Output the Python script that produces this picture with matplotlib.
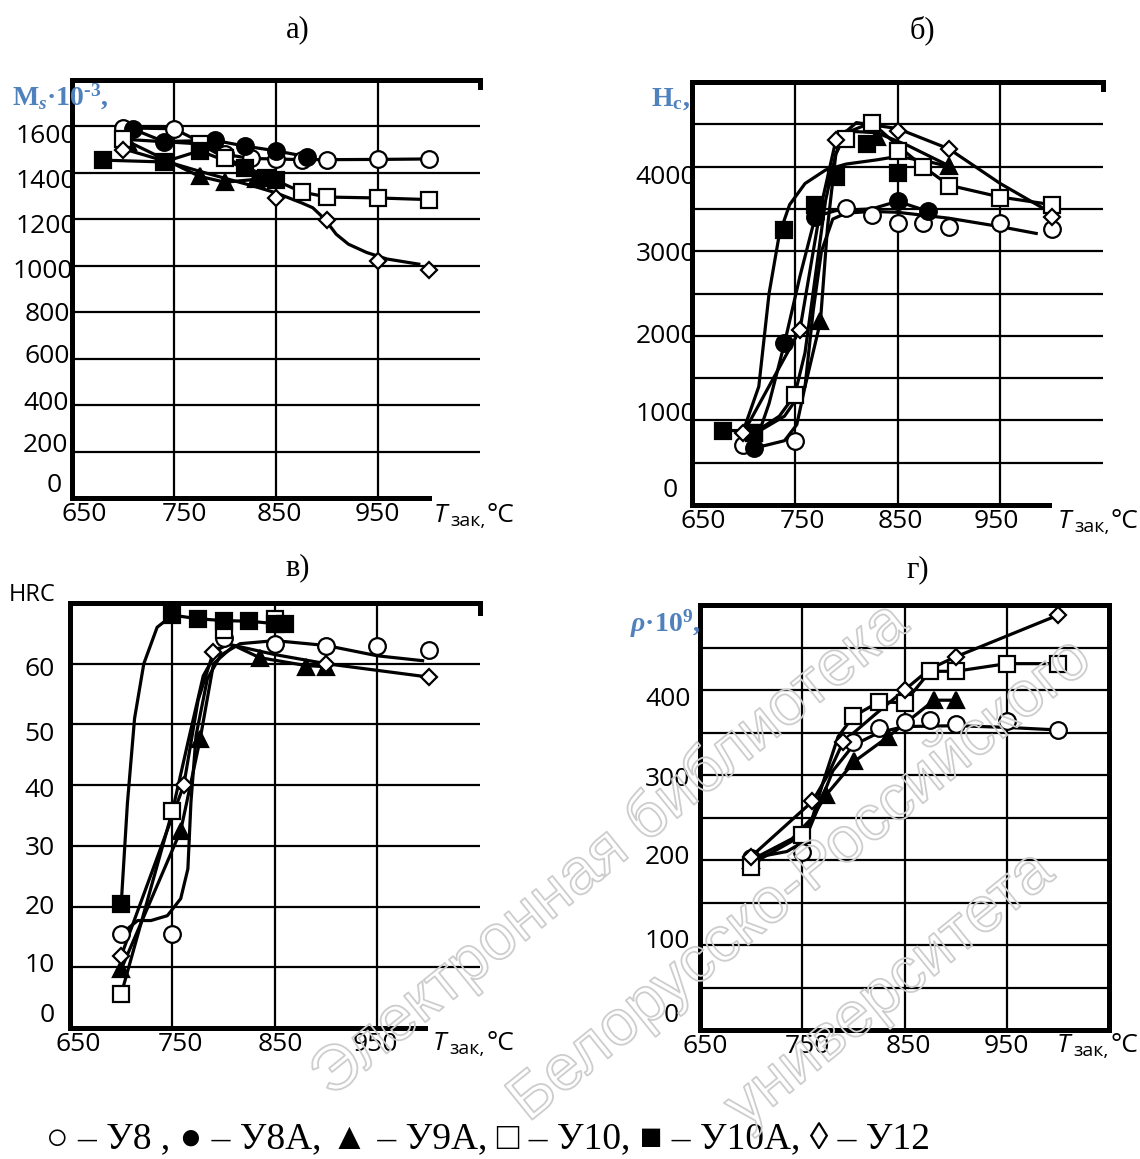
import numpy as np
import matplotlib
matplotlib.use("Agg")
import matplotlib.pyplot as plt
from matplotlib.transforms import ScaledTranslation
import matplotlib.patheffects as pe

plt.rcParams['font.family'] = ['Open Sans', 'DejaVu Sans']
plt.rcParams['mathtext.fontset'] = 'custom'
plt.rcParams['mathtext.rm'] = 'Liberation Serif:bold'
plt.rcParams['mathtext.it'] = 'Liberation Serif:bold:italic'
plt.rcParams['mathtext.bf'] = 'Liberation Serif:bold'

W, H = 1140, 1159
BLUE = '#4f81bd'

# -----------------------------
# а) Ms*10^-3
# -----------------------------
ms_u8_x = [700, 750, 800, 825, 850, 875, 900, 950, 1000]
ms_u8_y = [1594, 1590, 1480, 1462, 1460, 1457, 1457, 1458, 1460]
ms_u8a_x = [710, 740, 790, 820, 850, 880]
ms_u8a_y = [1588, 1535, 1540, 1515, 1495, 1470]
ms_u9a_x = [705, 775, 800, 830]
ms_u9a_y = [1535, 1385, 1360, 1372]
ms_u10_x = [700, 775, 800, 875, 900, 950, 1000]
ms_u10_y = [1545, 1525, 1465, 1318, 1296, 1292, 1285]
ms_u10a_x = [680, 740, 775, 820, 840, 850]
ms_u10a_y = [1455, 1447, 1495, 1420, 1378, 1370]
ms_u12_x = [700, 850, 900, 950, 1000]
ms_u12_y = [1500, 1292, 1195, 1022, 980]
ms_u12_cx = [700, 775, 828, 850, 875, 886, 898, 909, 921, 939, 959, 990]
ms_u12_cy = [1504, 1407, 1343, 1314, 1271, 1250, 1200, 1136, 1093, 1057, 1029, 1007]

# -----------------------------
# б) Hc
# -----------------------------
hc_u8_x = [700, 750, 800, 825, 850, 875, 900, 950, 1000]
hc_u8_y = [710, 760, 3510, 3430, 3330, 3330, 3290, 3330, 3260]
hc_u8_cx = [700, 720, 740, 752, 760, 768, 776, 787, 800, 825, 850, 900, 950, 985]
hc_u8_cy = [720, 700, 760, 950, 1400, 2300, 3000, 3380, 3450, 3470, 3460, 3390, 3290, 3210]
hc_u8a_x = [710, 740, 770, 850, 880]
hc_u8a_y = [670, 1910, 3410, 3590, 3470]
hc_u8a_cx = [710, 725, 740, 755, 770, 790, 825, 850, 880]
hc_u8a_cy = [670, 1200, 1910, 2700, 3410, 3480, 3500, 3590, 3470]
hc_u9a_x = [775, 830, 900]
hc_u9a_y = [2170, 4350, 4010]
hc_u9a_cx = [705, 740, 760, 775, 782, 790, 800, 830, 860, 900]
hc_u9a_cy = [800, 1050, 1400, 2170, 3300, 4150, 4420, 4400, 4250, 4010]
hc_u10_x = [710, 750, 800, 825, 850, 875, 900, 950, 1000]
hc_u10_y = [850, 1300, 4330, 4510, 4180, 4000, 3770, 3630, 3550]
hc_u10_cx = [710, 735, 750, 760, 770, 780, 790, 800, 825, 850, 875, 900, 950, 1000]
hc_u10_cy = [850, 1050, 1300, 1800, 2700, 3600, 4150, 4400, 4520, 4250, 4000, 3780, 3640, 3550]
hc_u10a_x = [680, 710, 740, 770, 790, 820, 850]
hc_u10a_y = [880, 850, 3250, 3550, 3880, 4270, 3920]
hc_u10a_cx = [680, 700, 715, 725, 735, 745, 760, 780, 800, 830, 850, 880, 900]
hc_u10a_cy = [880, 880, 1400, 2500, 3200, 3550, 3800, 3960, 4030, 4080, 4120, 4060, 4000]
hc_u12_x = [700, 755, 790, 850, 900, 1000]
hc_u12_y = [850, 2070, 4310, 4420, 4210, 3410]
hc_u12_cx = [700, 755, 775, 790, 810, 850, 900, 950, 1000]
hc_u12_cy = [850, 2070, 3500, 4310, 4520, 4450, 4210, 3800, 3450]

# -----------------------------
# в) HRC
# -----------------------------
hrc_u8_x = [700, 750, 800, 850, 900, 950, 1000]
hrc_u8_y = [15.5, 15.5, 64.2, 63.3, 62.9, 62.9, 62.2]
hrc_u8_cx = [700, 716, 729, 745, 758, 765, 768, 773, 784, 797, 816, 850, 900, 950, 994]
hrc_u8_cy = [15.5, 17.7, 17.7, 18.5, 21.3, 26.2, 37.2, 48.2, 57.5, 61.4, 63.3, 63.8, 63.0, 61.3, 60.5]
hrc_u9a_x = [700, 758, 777, 835, 880, 900]
hrc_u9a_y = [9.7, 32.5, 47.6, 61.0, 59.5, 59.5]
hrc_u9a_cx = [700, 758, 777, 790, 810, 835, 880, 900]
hrc_u9a_cy = [9.7, 32.5, 47.6, 60, 63, 61, 59.7, 59.5]
hrc_u10_x = [700, 750, 800, 850]
hrc_u10_y = [5.6, 35.8, 65.5, 67.4]
hrc_u10_cx = [700, 750, 765, 780, 795]
hrc_u10_cy = [5.6, 35.8, 47, 58, 62.5]
hrc_u10a_x = [700, 750, 775, 800, 825, 850, 860]
hrc_u10a_y = [20.5, 68.0, 67.4, 67.1, 67.0, 66.6, 66.6]
hrc_u10a_cx = [700, 706, 713, 722, 735, 750, 775, 800, 825, 850, 860]
hrc_u10a_cy = [20.5, 37, 51, 60, 66, 68, 67.4, 67.1, 67, 66.6, 66.6]
hrc_u12_x = [700, 761, 790, 900, 1000]
hrc_u12_y = [11.9, 40.0, 62.0, 59.9, 57.8]
hrc_u12_cx = [700, 761, 775, 790, 805, 850, 900, 1000]
hrc_u12_cy = [11.9, 40, 54, 62, 63.2, 61.5, 60, 57.8]

# -----------------------------
# г) rho*10^9
# -----------------------------
rho_u8_x = [700, 750, 800, 825, 850, 875, 900, 950, 1000]
rho_u8_y = [202, 209, 339, 355, 362, 365, 360, 364, 353]
rho_u8_cx = [700, 735, 752, 765, 780, 800, 825, 850, 900, 950, 1000]
rho_u8_cy = [202, 210, 222, 260, 305, 335, 350, 357, 358, 356, 353]
rho_u9a_x = [700, 773, 801, 834, 879, 900]
rho_u9a_y = [200, 276, 316, 345, 388, 388]
rho_u9a_cx = [700, 740, 760, 773, 801, 834, 855, 879, 900]
rho_u9a_cy = [200, 225, 250, 276, 316, 345, 365, 388, 388]
rho_u10_x = [700, 750, 800, 825, 850, 875, 900, 950, 1000]
rho_u10_y = [192, 229, 369, 386, 385, 422, 422, 431, 431]
rho_u10_cx = [700, 750, 760, 770, 785, 800, 825, 850, 875, 900, 950, 1000]
rho_u10_cy = [195, 229, 250, 290, 345, 369, 386, 385, 422, 422, 431, 431]
rho_u12_x = [700, 760, 790, 850, 900, 1000]
rho_u12_y = [204, 269, 339, 400, 439, 488]
rho_u12_cx = [700, 760, 775, 790, 820, 850, 875, 900, 1000]
rho_u12_cy = [204, 269, 300, 339, 370, 400, 425, 439, 488]

legend_text = "○ – У8 , ● – У8А, ▲ – У9А, □ – У10, ■ – У10А, ◊ – У12"
watermark_lines = ['Электронная библиотека', 'Белорусско-Российского', 'университета']

styles = {
    'u8':   dict(marker='o', mfc='white', ms=12),
    'u8a':  dict(marker='o', mfc='black', ms=12),
    'u9a':  dict(marker='^', mfc='black', ms=12),
    'u10':  dict(marker='s', mfc='white', ms=12),
    'u10a': dict(marker='s', mfc='black', ms=12),
    'u12':  dict(marker='D', mfc='white', ms=8),
}

fig = plt.figure(figsize=(W / 100, H / 100), dpi=100)


def box(l, t, r, b):
    return [l / W, 1 - b / H, (r - l) / W, (b - t) / H]


def shift(lab, dx, dy):
    lab.set_transform(lab.get_transform() + ScaledTranslation(dx / 100, dy / 100, fig.dpi_scale_trans))


def setup(ax, ymax, gstep, lstep, lmax, bottom_end, right_start, ypad, yoff, xdx):
    ax.set_xlim(650, 1050)
    ax.set_ylim(0, ymax)
    ax.set_xticks([650, 750, 850, 950])
    yt = np.arange(0, lmax + 1, lstep)
    ax.set_yticks(yt)
    ax.set_yticklabels([str(int(v)) for v in yt])
    ax.tick_params(length=0, labelsize=19)
    ax.tick_params(axis='y', pad=ypad)
    ax.tick_params(axis='x', pad=3)
    # the source puts its tick labels a little off the grid lines
    for lab, (dx, dy) in zip(ax.get_yticklabels(), yoff):
        shift(lab, dx, dy)
    for lab, dx in zip(ax.get_xticklabels(), xdx):
        shift(lab, dx, 0)
    for v in [750, 850, 950]:
        ax.axvline(v, color='black', lw=1.6, zorder=1)
    for v in np.arange(gstep, ymax, gstep):
        ax.axhline(v, color='black', lw=1.6, zorder=1)
    for s in ['right', 'bottom']:
        ax.spines[s].set_visible(False)
    for s in ['left', 'top']:
        ax.spines[s].set_linewidth(3.6)
    ax.plot([0, bottom_end], [0, 0], transform=ax.transAxes, color='black',
            lw=3.6, clip_on=False, solid_capstyle='projecting', zorder=5)
    ax.plot([1, 1], [right_start, 1], transform=ax.transAxes, color='black',
            lw=3.6, clip_on=False, solid_capstyle='projecting', zorder=5)


def series(ax, key, x, y, cx=None, cy=None):
    if cx is None:
        cx, cy = x, y
    ax.plot(cx, cy, color='black', lw=2.3, zorder=3, clip_on=False)
    ax.plot(x, y, ls='none', mec='black', mew=1.6, zorder=4, clip_on=False,
            **styles[key])


def tlabel(x0, y0):
    # "T" italic, "зак," subscript, "°C"
    fig.text(x0 / W, 1 - y0 / H, 'T', fontsize=19, style='italic', va='center')
    fig.text((x0 + 16) / W, 1 - (y0 + 6) / H, 'зак,', fontsize=14, va='center')
    fig.text((x0 + 53) / W, 1 - y0 / H, '°C', fontsize=19, va='center')


# а)
ax1 = fig.add_axes(box(72, 80, 480, 498))
setup(ax1, 1800, 200, 200, 1600, 0.875, 0.983, -3,
      [(-14, 15), (-8, 9), (-7, 5), (-6, 5), (-6, 1), (-3, -3), (0, -4), (0, -6), (0, -7)],
      [12, 10, 3, -1])
series(ax1, 'u8', ms_u8_x, ms_u8_y)
series(ax1, 'u8a', ms_u8a_x, ms_u8a_y)
series(ax1, 'u9a', ms_u9a_x, ms_u9a_y)
series(ax1, 'u10', ms_u10_x, ms_u10_y)
series(ax1, 'u10a', ms_u10a_x, ms_u10a_y)
series(ax1, 'u12', ms_u12_x, ms_u12_y, ms_u12_cx, ms_u12_cy)
fig.text(12 / W, 1 - 97 / H, r'$\mathrm{M}_{\mathit{s}}\mathrm{·}\mathit{10}^{\mathit{‐3}}\mathrm{,}$',
         color=BLUE, fontsize=20, va='center')
tlabel(434, 515)

# б)
ax2 = fig.add_axes(box(692, 82, 1103, 505))
setup(ax2, 5000, 500, 1000, 4000, 0.8675, 0.983, -3,
      [(-18, 18), (0, 9), (0, 2), (0, 0), (0, -8)], [11, 8, 3, -4])
series(ax2, 'u8', hc_u8_x, hc_u8_y, hc_u8_cx, hc_u8_cy)
series(ax2, 'u8a', hc_u8a_x, hc_u8a_y, hc_u8a_cx, hc_u8a_cy)
series(ax2, 'u9a', hc_u9a_x, hc_u9a_y, hc_u9a_cx, hc_u9a_cy)
series(ax2, 'u10', hc_u10_x, hc_u10_y, hc_u10_cx, hc_u10_cy)
series(ax2, 'u10a', hc_u10a_x, hc_u10a_y, hc_u10a_cx, hc_u10a_cy)
series(ax2, 'u12', hc_u12_x, hc_u12_y, hc_u12_cx, hc_u12_cy)
fig.text(651 / W, 1 - 99 / H, r'$\mathrm{H}_{\mathrm{c}}\mathrm{,}$',
         color=BLUE, fontsize=20, va='center')
tlabel(1058, 521)

# в)
ax3 = fig.add_axes(box(70, 603, 480, 1028))
setup(ax3, 70, 10, 10, 60, 0.865, 0.976, 11,
      [(0, 16), (0, 5), (0, 2), (0, 0), (0, -2), (0, -7), (0, -3)], [8, 8, 5, -2])
series(ax3, 'u8', hrc_u8_x, hrc_u8_y, hrc_u8_cx, hrc_u8_cy)
series(ax3, 'u9a', hrc_u9a_x, hrc_u9a_y, hrc_u9a_cx, hrc_u9a_cy)
series(ax3, 'u10', hrc_u10_x, hrc_u10_y, hrc_u10_cx, hrc_u10_cy)
series(ax3, 'u10a', hrc_u10a_x, hrc_u10a_y, hrc_u10a_cx, hrc_u10a_cy)
series(ax3, 'u12', hrc_u12_x, hrc_u12_y, hrc_u12_cx, hrc_u12_cy)
fig.text(9 / W, 1 - 595 / H, 'HRC', fontsize=17, va='center')
tlabel(433, 1043)

# г)
ax4 = fig.add_axes(box(700, 605, 1109, 1030))
setup(ax4, 500, 50, 100, 400, 1.0, 0.0, 7,
      [(-12, 17), (0, 7), (0, 5), (0, -2), (0, -6)], [5, 5, 4, 0])
series(ax4, 'u8', rho_u8_x, rho_u8_y, rho_u8_cx, rho_u8_cy)
series(ax4, 'u9a', rho_u9a_x, rho_u9a_y, rho_u9a_cx, rho_u9a_cy)
series(ax4, 'u10', rho_u10_x, rho_u10_y, rho_u10_cx, rho_u10_cy)
series(ax4, 'u12', rho_u12_x, rho_u12_y, rho_u12_cx, rho_u12_cy)
fig.text(630 / W, 1 - 624 / H, r'$\mathit{ρ}\mathrm{·}\mathit{10}^{\mathit{9}}\mathrm{,}$',
         color=BLUE, fontsize=20, va='center')
tlabel(1057, 1045)

# panel letters
serif = ['Liberation Serif', 'DejaVu Serif']
for txt, x, y in [('а)', 298, 30), ('б)', 922, 30), ('в)', 298, 568), ('г)', 918, 570)]:
    fig.text(x / W, 1 - y / H, txt, fontsize=22, family=serif, ha='center', va='center')

fig.text(488 / W, 1 - 1140 / H, legend_text, fontsize=27, family=serif,
         ha='center', va='center')

# faint library watermark across the figure
wm = dict(fontsize=46, family=['Liberation Sans', 'DejaVu Sans'], rotation=39,
          ha='center', va='center', color=(1, 1, 1, 0), rotation_mode='anchor',
          path_effects=[pe.withStroke(linewidth=1.3, foreground='#cdcdcd')])
for txt, x, y in zip(watermark_lines, [610, 800, 890], [850, 880, 990]):
    fig.text(x / W, 1 - y / H, txt, **wm)

fig.savefig('out.png', dpi=100)
